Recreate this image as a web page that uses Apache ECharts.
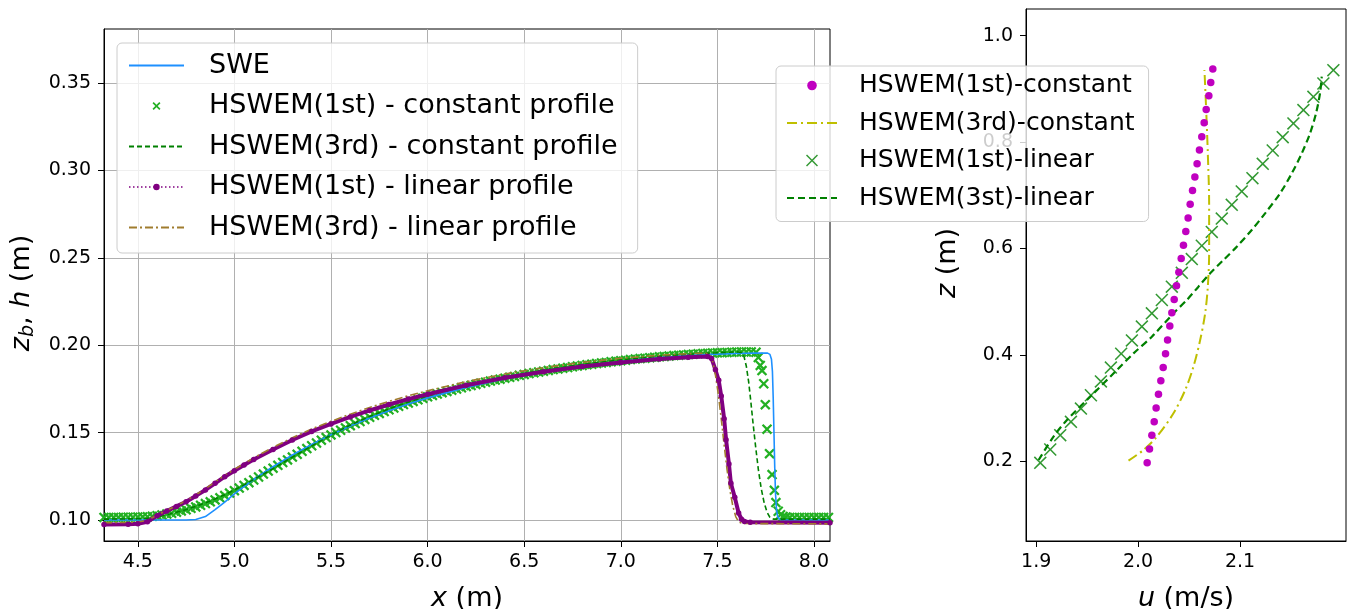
<!DOCTYPE html>
<html><head><meta charset="utf-8">
<script src="https://cdn.jsdelivr.net/npm/echarts@6/dist/echarts.min.js"></script>
<style>html,body{margin:0;padding:0;background:#fff;width:1348px;height:609px;overflow:hidden}#c{display:block;width:1348px;height:609px;overflow:hidden}</style>
</head><body><div id="c"></div>
<script>
// ---------- left panel: free-surface profiles [x (m), h (m)] ----------
const sweData = [[4.325,.1000],[4.75,.1000],[4.80,.1003],[4.85,.1020],[4.90,.1060],[4.95,.1103],[5.0,.1150],[5.05,.1192],[5.1,.1232],[5.15,.1270],[5.2,.1305],[5.3,.1372],[5.4,.1433],[5.5,.1488],[5.6,.1538],[5.7,.1584],[5.8,.1626],[5.9,.1664],[6.0,.1699],[6.2,.1759],[6.4,.1808],[6.6,.1848],[6.8,.1881],[7.0,.1908],[7.2,.1930],[7.4,.1945],[7.6,.1953],[7.7,.1955],[7.76,.1955],[7.772,.1948],[7.780,.1920],[7.785,.1850],[7.789,.1700],[7.793,.1500],[7.797,.1300],[7.801,.1150],[7.806,.1060],[7.812,.1020],[7.822,.1003],[7.84,.1000],[8.083,.1000]];

const hs1ConstData = [[4.325,.1015],[4.350,.1015],[4.375,.1015],[4.400,.1015],[4.425,.1016],[4.450,.1016],[4.475,.1016],[4.500,.1017],[4.525,.1018],[4.550,.1019],[4.575,.1021],[4.600,.1025],[4.625,.1029],[4.650,.1034],[4.675,.1039],[4.700,.1045],[4.725,.1052],[4.750,.1059],[4.775,.1067],[4.800,.1075],[4.825,.1084],[4.850,.1094],[4.875,.1104],[4.900,.1115],[4.925,.1127],[4.950,.1140],[4.975,.1154],[5.000,.1168],[5.025,.1183],[5.050,.1198],[5.075,.1214],[5.100,.1229],[5.125,.1246],[5.150,.1263],[5.175,.1280],[5.200,.1297],[5.225,.1313],[5.250,.1329],[5.275,.1344],[5.300,.1360],[5.325,.1376],[5.350,.1393],[5.375,.1409],[5.400,.1425],[5.425,.1441],[5.450,.1457],[5.475,.1472],[5.500,.1487],[5.525,.1501],[5.550,.1514],[5.575,.1527],[5.600,.1540],[5.625,.1552],[5.650,.1564],[5.675,.1576],[5.700,.1588],[5.725,.1599],[5.750,.1610],[5.775,.1621],[5.800,.1631],[5.825,.1641],[5.850,.1651],[5.875,.1661],[5.900,.1670],[5.925,.1679],[5.950,.1688],[5.975,.1697],[6.000,.1705],[6.025,.1713],[6.050,.1721],[6.075,.1729],[6.100,.1736],[6.125,.1743],[6.150,.1750],[6.175,.1757],[6.200,.1764],[6.225,.1770],[6.250,.1776],[6.275,.1783],[6.300,.1789],[6.325,.1795],[6.350,.1801],[6.375,.1806],[6.400,.1812],[6.425,.1817],[6.450,.1822],[6.475,.1828],[6.500,.1833],[6.525,.1838],[6.550,.1843],[6.575,.1847],[6.600,.1852],[6.625,.1856],[6.650,.1861],[6.675,.1865],[6.700,.1869],[6.725,.1873],[6.750,.1877],[6.775,.1881],[6.800,.1885],[6.825,.1889],[6.850,.1892],[6.875,.1896],[6.900,.1899],[6.925,.1902],[6.950,.1906],[6.975,.1909],[7.000,.1912],[7.025,.1915],[7.050,.1918],[7.075,.1921],[7.100,.1924],[7.125,.1926],[7.150,.1929],[7.175,.1931],[7.200,.1934],[7.225,.1936],[7.250,.1938],[7.275,.1941],[7.300,.1943],[7.325,.1945],[7.350,.1947],[7.375,.1949],[7.400,.1951],[7.425,.1953],[7.450,.1954],[7.475,.1956],[7.500,.1957],[7.525,.1958],[7.550,.1959],[7.575,.1960],[7.600,.1961],[7.625,.1962],[7.650,.1962],[7.675,.1962],[7.700,.1960],[7.712,.1930],[7.722,.1885],[7.731,.1855],[7.740,.1780],[7.748,.1660],[7.757,.1520],[7.770,.1380],[7.783,.1260],[7.795,.1170],[7.803,.1100],[7.815,.1050],[7.827,.1030],[7.840,.1020],[7.855,.1017],[7.875,.1015],[7.900,.1015],[7.925,.1015],[7.950,.1015],[7.975,.1015],[8.000,.1015],[8.025,.1015],[8.050,.1015],[8.075,.1015]];

const hs3ConstData = [[4.325,.1005],[4.5,.1007],[4.55,.1010],[4.6,.1018],[4.65,.1030],[4.7,.1044],[4.75,.1060],[4.8,.1078],[4.85,.1098],[4.9,.1120],[4.95,.1145],[5.0,.1172],[5.05,.1201],[5.1,.1232],[5.15,.1263],[5.2,.1294],[5.3,.1360],[5.4,.1424],[5.5,.1487],[5.6,.1543],[5.7,.1592],[5.8,.1636],[5.9,.1675],[6.0,.1710],[6.2,.1770],[6.4,.1818],[6.6,.1858],[6.8,.1890],[7.0,.1917],[7.2,.1937],[7.4,.1952],[7.55,.1960],[7.61,.1962],[7.625,.1958],[7.638,.1935],[7.650,.1880],[7.662,.1790],[7.673,.1680],[7.685,.1550],[7.698,.1420],[7.712,.1290],[7.727,.1180],[7.742,.1100],[7.757,.1045],[7.772,.1015],[7.79,.1005],[8.083,.1005]];

const hs1LinData = [[4.325,.0975],[4.45,.0976],[4.5,.0979],[4.55,.0990],[4.6,.1025],[4.65,.1052],[4.7,.1078],[4.75,.1105],[4.8,.1138],[4.85,.1172],[4.9,.1210],[4.95,.1248],[5.0,.1282],[5.05,.1315],[5.1,.1346],[5.2,.1404],[5.3,.1458],[5.4,.1507],[5.5,.1550],[5.6,.1590],[5.7,.1627],[5.8,.1661],[5.9,.1692],[6.0,.1720],[6.2,.1771],[6.4,.1814],[6.6,.1849],[6.8,.1878],[7.0,.1902],[7.2,.1921],[7.35,.1932],[7.45,.1936],[7.47,.1925],[7.49,.1860],[7.507,.1800],[7.52,.1710],[7.535,.1580],[7.545,.1460],[7.56,.1320],[7.57,.1210],[7.59,.1130],[7.61,.1040],[7.625,.1005],[7.64,.0992],[7.67,.0987],[8.083,.0985]];

const hs3LinData = [[4.325,.0985],[4.45,.0986],[4.5,.0989],[4.55,.0998],[4.6,.1028],[4.65,.1055],[4.7,.1082],[4.75,.1111],[4.8,.1144],[4.85,.1180],[4.9,.1218],[4.95,.1256],[5.0,.1290],[5.1,.1356],[5.2,.1416],[5.3,.1471],[5.4,.1521],[5.5,.1565],[5.6,.1606],[5.7,.1644],[5.8,.1679],[5.9,.1711],[6.0,.1740],[6.2,.1792],[6.4,.1836],[6.6,.1872],[6.8,.1902],[7.0,.1926],[7.2,.1943],[7.35,.1952],[7.44,.1955],[7.46,.1948],[7.475,.1910],[7.49,.1830],[7.505,.1720],[7.52,.1580],[7.535,.1430],[7.55,.1290],[7.565,.1170],[7.58,.1080],[7.595,.1020],[7.61,.0990],[7.63,.0980],[8.083,.0978]];

// ---------- right panel: velocity profiles [u (m/s), z (m)] ----------
const velHs1Const = [[2.0733,.937],[2.0713,.912],[2.0694,.887],[2.0668,.861],[2.0648,.836],[2.0625,.810],[2.0602,.785],[2.0579,.759],[2.0557,.734],[2.0534,.709],[2.0511,.683],[2.0491,.657],[2.0468,.632],[2.0445,.606],[2.0423,.581],[2.0400,.555],[2.0377,.530],[2.0354,.504],[2.0331,.479],[2.0311,.454],[2.0289,.428],[2.0269,.402],[2.0246,.376],[2.0223,.351],[2.0200,.326],[2.0177,.300],[2.0158,.274],[2.0135,.249],[2.0112,.223],[2.0089,.197]];
const velHs3Const = [[1.9906,.2010],[2.0053,.2211],[2.0184,.2461],[2.0347,.2900],[2.0462,.3338],[2.0543,.3777],[2.0609,.4278],[2.0658,.4780],[2.0684,.5280],[2.0697,.5908],[2.0697,.6848],[2.0684,.7787],[2.0668,.8602],[2.0651,.9353]];
const velHs1Lin = [[2.1916,.935],[2.1818,.910],[2.1720,.885],[2.1622,.860],[2.1524,.835],[2.1419,.809],[2.1321,.784],[2.1223,.759],[2.1122,.732],[2.1017,.707],[2.0919,.682],[2.0821,.656],[2.0723,.631],[2.0625,.605],[2.0527,.580],[2.0429,.554],[2.0331,.528],[2.0233,.503],[2.0135,.478],[2.0037,.453],[1.9939,.427],[1.9834,.402],[1.9733,.376],[1.9635,.350],[1.9537,.324],[1.9439,.299],[1.9341,.274],[1.9236,.249],[1.9138,.222],[1.9040,.197]];
const velHs3Lin = [[1.9024,.2023],[1.9170,.2461],[1.9302,.2774],[1.9547,.3244],[1.9792,.3714],[1.9955,.4027],[2.0135,.4341],[2.0347,.4779],[2.0478,.5030],[2.0592,.5281],[2.0707,.5531],[2.0838,.5782],[2.0968,.6032],[2.1115,.6346],[2.1246,.6659],[2.1393,.7035],[2.1508,.7411],[2.1606,.7787],[2.1687,.8163],[2.1746,.8539],[2.1785,.8915],[2.1802,.9228]];

// ---------- tick labels ----------
const xTicksLeft = [4.5,5.0,5.5,6.0,6.5,7.0,7.5,8.0];
const yTicksLeft = [0.10,0.15,0.20,0.25,0.30,0.35];
const xTicksRight = [1.9,2.0,2.1];
const yTicksRight = [0.2,0.4,0.6,0.8,1.0];

const FONT = 'DejaVu Sans';
const X_THICK = 'path://M0,1.5L1.5,0L5,3.5L8.5,0L10,1.5L6.5,5L10,8.5L8.5,10L5,6.5L1.5,10L0,8.5L3.5,5Z';
const X_THIN = 'path://M0,0.85L0.85,0L5,4.15L9.15,0L10,0.85L5.85,5L10,9.15L9.15,10L5,5.85L0.85,10L0,9.15L4.15,5Z';
const NO_SYMBOL = {color: 'rgba(0,0,0,0)', borderWidth: 0, opacity: 0};

function axisCommon(ticks, digits, gridIdx, withSplit, margin) {
  return {
    gridIndex: gridIdx, type: 'value',
    axisLine: {show: true, onZero: false, lineStyle: {color: '#000', width: 1}},
    axisTick: {show: true, inside: false, length: 6, lineStyle: {color: '#000', width: 1}, customValues: ticks},
    axisLabel: {customValues: ticks, formatter: v => Number(v).toFixed(digits), fontSize: 19, color: '#000', fontFamily: FONT, margin: margin},
    splitLine: {show: withSplit, lineStyle: {color: '#b0b0b0', width: 1}},
    nameLocation: 'middle'
  };
}
const nameRich = {
  i: {fontFamily: FONT, fontSize: 27, fontStyle: 'italic', color: '#000', lineHeight: 32},
  n: {fontFamily: FONT, fontSize: 27, color: '#000', lineHeight: 32},
  s: {fontFamily: FONT, fontSize: 19, fontStyle: 'italic', color: '#000', verticalAlign: 'bottom', lineHeight: 19}
};

const chart = echarts.init(document.getElementById('c'));
chart.setOption({
  animation: false,
  backgroundColor: '#fff',
  textStyle: {fontFamily: FONT},
  grid: [
    {left: 104, top: 29, width: 726, height: 512, containLabel: false, outerBoundsMode: 'none', show: true, borderColor: '#000', borderWidth: 1, backgroundColor: 'transparent'},
    {left: 1026, top: 9, width: 320, height: 532, containLabel: false, outerBoundsMode: 'none', show: true, borderColor: '#000', borderWidth: 1, backgroundColor: 'transparent'}
  ],
  xAxis: [
    Object.assign(axisCommon(xTicksLeft, 1, 0, true, 12), {min: 4.325, max: 8.083, name: '{i|x}{n| (m)}', nameGap: 42, nameTextStyle: {rich: nameRich}}),
    Object.assign(axisCommon(xTicksRight, 1, 1, false, 12), {min: 1.89, max: 2.204, name: '{i|u}{n| (m/s)}', nameGap: 42, nameTextStyle: {rich: nameRich}})
  ],
  yAxis: [
    Object.assign(axisCommon(yTicksLeft, 2, 0, true, 13), {min: 0.088, max: 0.381, name: '{i|z}{s|b}{n|, }{i|h}{n| (m)}', nameGap: 55, nameTextStyle: {rich: nameRich, padding: [0, 16, 0, 0]}}),
    Object.assign(axisCommon(yTicksRight, 1, 1, false, 13), {min: 0.05, max: 1.05, name: '{i|z}{n| (m)}', nameGap: 62, nameTextStyle: {rich: nameRich, padding: [0, 0, 0, 24]}})
  ],
  legend: [
    {
      z: 20, orient: 'vertical', left: 117, top: 43,
      padding: [9, 20, 12, 11], itemGap: 13.5, itemWidth: 55, itemHeight: 8,
      backgroundColor: 'rgba(255,255,255,0.8)', borderColor: '#cccccc', borderWidth: 1, borderRadius: 5,
      selectedMode: false,
      textStyle: {fontFamily: FONT, fontSize: 27, lineHeight: 27, color: '#000', padding: [0, 0, 0, 20]},
      data: [
        {name: 'SWE', itemStyle: NO_SYMBOL},
        {name: 'HSWEM(1st) - constant profile'},
        {name: 'HSWEM(3rd) - constant profile', itemStyle: NO_SYMBOL},
        {name: 'HSWEM(1st) - linear profile', lineStyle: {type: [1.5, 2.5], width: 1.5}},
        {name: 'HSWEM(3rd) - linear profile', itemStyle: NO_SYMBOL}
      ]
    },
    {
      z: 20, orient: 'vertical', left: 776, top: 66,
      padding: [7, 14, 11, 10], itemGap: 12.5, itemWidth: 50, itemHeight: 12,
      backgroundColor: 'rgba(255,255,255,0.8)', borderColor: '#cccccc', borderWidth: 1, borderRadius: 5,
      selectedMode: false,
      textStyle: {fontFamily: FONT, fontSize: 25, lineHeight: 25, color: '#000', padding: [0, 0, 0, 17]},
      data: [
        {name: 'HSWEM(1st)-constant'},
        {name: 'HSWEM(3rd)-constant', itemStyle: NO_SYMBOL},
        {name: 'HSWEM(1st)-linear'},
        {name: 'HSWEM(3st)-linear', itemStyle: NO_SYMBOL}
      ]
    }
  ],
  series: [
    {name: 'SWE', type: 'line', xAxisIndex: 0, yAxisIndex: 0, data: sweData, symbol: 'none',
     lineStyle: {color: '#1e90ff', width: 1.6}, itemStyle: {color: '#1e90ff'}},
    {name: 'HSWEM(1st) - constant profile', type: 'scatter', xAxisIndex: 0, yAxisIndex: 0, data: hs1ConstData,
     symbol: X_THICK, symbolSize: 10.5, itemStyle: {color: '#22b022', opacity: 1}},
    {name: 'HSWEM(3rd) - constant profile', type: 'line', xAxisIndex: 0, yAxisIndex: 0, data: hs3ConstData, symbol: 'none',
     lineStyle: {color: '#008000', width: 1.6, type: [5, 3]}, itemStyle: {color: '#008000'}},
    {name: 'HSWEM(1st) - linear profile', type: 'line', xAxisIndex: 0, yAxisIndex: 0, data: hs1LinData,
     symbol: 'circle', symbolSize: 5.5, showSymbol: true, showAllSymbol: true,
     lineStyle: {color: '#800080', width: 4}, itemStyle: {color: '#800080'}},
    {name: 'HSWEM(3rd) - linear profile', type: 'line', xAxisIndex: 0, yAxisIndex: 0, data: hs3LinData, symbol: 'none',
     lineStyle: {color: '#a07c2e', width: 1.6, type: [8, 3, 2, 3]}, itemStyle: {color: '#a07c2e'}},

    {name: 'HSWEM(1st)-constant', type: 'line', xAxisIndex: 1, yAxisIndex: 1, data: velHs1Const,
     symbol: 'circle', symbolSize: 7.5, showSymbol: true, showAllSymbol: true,
     lineStyle: {opacity: 0, width: 0}, itemStyle: {color: '#c000c0'}},
    {name: 'HSWEM(3rd)-constant', type: 'line', xAxisIndex: 1, yAxisIndex: 1, data: velHs3Const, symbol: 'none', smooth: 0.3,
     lineStyle: {color: '#bfbf00', width: 2, type: [10, 4, 2, 4]}, itemStyle: {color: '#bfbf00'}},
    {name: 'HSWEM(1st)-linear', type: 'scatter', xAxisIndex: 1, yAxisIndex: 1, data: velHs1Lin,
     symbol: X_THIN, symbolSize: 13, itemStyle: {color: '#008000'}},
    {name: 'HSWEM(3st)-linear', type: 'line', xAxisIndex: 1, yAxisIndex: 1, data: velHs3Lin, symbol: 'none', smooth: 0.3,
     lineStyle: {color: '#008000', width: 2.2, type: [7, 4]}, itemStyle: {color: '#008000'}}
  ]
});
</script>
</body></html>
